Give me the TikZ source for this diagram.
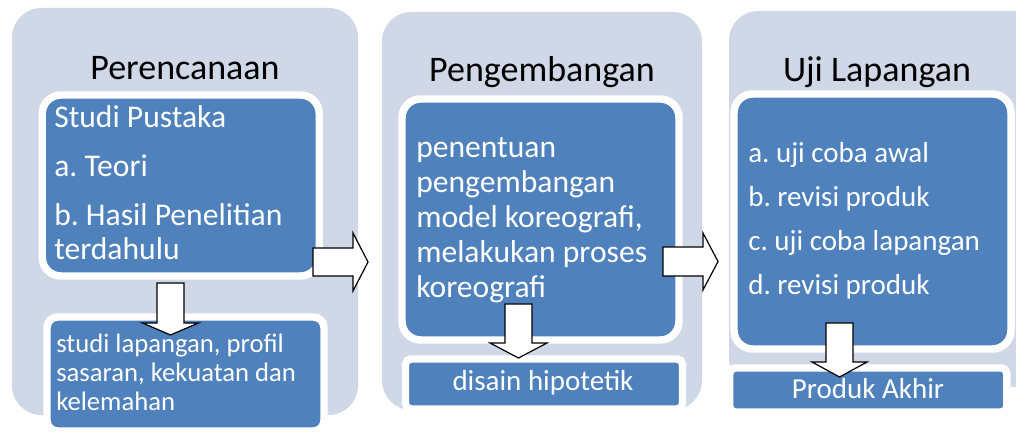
\documentclass[tikz,border=0pt]{standalone}
\usepackage{fontspec}
\setmainfont{Carlito}
\usetikzlibrary{shadows}
\frenchspacing
\definecolor{panelbg}{HTML}{D0D8E8}
\definecolor{boxblue}{HTML}{4F81BD}
\tikzset{
  panel/.style={fill=panelbg, rounded corners=22pt},
  bluebox/.style={fill=boxblue, draw=white, line width=5.6pt, rounded corners=14pt,
    inner sep=0pt, minimum width=207.75pt,
    drop shadow={shadow xshift=1.2pt, shadow yshift=-1.5pt, opacity=0.35}},
  flatbox/.style={bluebox, rounded corners=4pt},
  title/.style={anchor=base, inner sep=0pt, font=\fontsize{27}{32}\selectfont},
  boxtext/.style={anchor=base west, inner sep=0pt, align=left, text=white},
  blockarrow/.style={fill=white, draw=black, line width=0.9pt, line join=miter}
}
\begin{document}
\begin{tikzpicture}[x=0.75pt, y=-0.75pt]
  \useasboundingbox (0,0) rectangle (1016,434);
  % stages
  \fill[panel] (12,8) rectangle (358,415);
  \fill[panel] (382,12) rectangle (702,410);
  \fill[panel] (729,11) rectangle (1050,387);
  \node[title] (plan) at (185,80) {Perencanaan};
  \node[title] (dev) at (542,82) {Pengembangan};
  \node[title] (field) at (877,82) {Uji Lapangan};
  % boxes
  \node[bluebox, minimum height=135.75pt] (pustaka) at (180.75,185.5) {};
  \node[bluebox, rounded corners=8pt, minimum height=85.5pt] (lapangan) at (185.5,374) {};
  \node[bluebox, minimum height=180.75pt] (penentuan) at (540.5,219.5) {};
  \node[flatbox, minimum height=37.5pt] (disain) at (544,384) {};
  \node[bluebox, minimum height=191.25pt] (ujicoba) at (872.5,221.5) {};
  \node[flatbox, minimum height=33pt] (produk) at (868.25,390) {};
  % texts (anchored at the last line)
  \node[boxtext, font=\fontsize{23.7}{25.5}\selectfont] (pustakatxt) at (54,260)
    {Studi Pustaka\\[11.25pt] a. Teori\\[11.25pt] b. Hasil Penelitian\\ terdahulu};
  \node[boxtext, font=\fontsize{20}{21.75}\selectfont] (lapangantxt) at (56,410)
    {studi lapangan, profil\\ sasaran, kekuatan dan\\ kelemahan};
  \node[boxtext, font=\fontsize{23.7}{26.25}\selectfont] (penentuantxt) at (416,298)
    {penentuan\\ pengembangan\\ model koreografi,\\ melakukan proses\\ koreografi};
  \node[boxtext, anchor=base, font=\fontsize{21.75}{26}\selectfont] (disaintxt) at (543,390)
    {disain hipotetik};
  \node[boxtext, font=\fontsize{21.75}{33}\selectfont] (ujicobatxt) at (748,295)
    {a. uji coba awal\\ b. revisi produk\\ c. uji coba lapangan\\ d. revisi produk};
  \node[boxtext, anchor=base, font=\fontsize{21.75}{26}\selectfont] (produktxt) at (868,398)
    {Produk Akhir};
  % block arrows
  \coordinate (d1) at (170.5,283);
  \coordinate (d2) at (518.5,304);
  \coordinate (d3) at (839.5,323);
  \coordinate (r1) at (313,262);
  \coordinate (r2) at (663,261.5);
  \draw[blockarrow] (d1) ++(-13.5,0) -- ++(27,0) -- ++(0,40) -- ++(14.5,0)
    -- ++(-28,12) -- ++(-28,-12) -- ++(14.5,0) -- cycle;
  \draw[blockarrow] (d2) ++(-13.5,0) -- ++(27,0) -- ++(0,39) -- ++(15,0)
    -- ++(-28.5,15) -- ++(-28.5,-15) -- ++(15,0) -- cycle;
  \draw[blockarrow] (d3) ++(-13.5,0) -- ++(27,0) -- ++(0,39) -- ++(14,0)
    -- ++(-27.5,15) -- ++(-27.5,-15) -- ++(14,0) -- cycle;
  \draw[blockarrow] (r1) ++(0,-14) -- ++(40,0) -- ++(0,-15) -- ++(15,29)
    -- ++(-15,29) -- ++(0,-15) -- ++(-40,0) -- cycle;
  \draw[blockarrow] (r2) ++(0,-14.5) -- ++(40,0) -- ++(0,-14) -- ++(15,28.5)
    -- ++(-15,28.5) -- ++(0,-14) -- ++(-40,0) -- cycle;
\end{tikzpicture}
\end{document}
